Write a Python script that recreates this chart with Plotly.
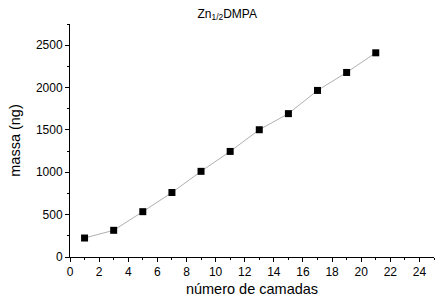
import plotly.graph_objects as go

camadas = [1, 3, 5, 7, 9, 11, 13, 15, 17, 19, 21]
massa = [224, 315, 535, 761, 1011, 1246, 1502, 1692, 1966, 2178, 2410]

fig = go.Figure()
fig.add_trace(go.Scatter(
    x=camadas, y=massa, mode="lines+markers",
    line=dict(color="#b0b0b0", width=1),
    marker=dict(symbol="square", size=7, color="black"),
    showlegend=False,
))

font = "Liberation Sans, Arial, sans-serif"
fig.update_layout(
    width=437, height=303,
    margin=dict(l=70, r=3, t=24, b=46, autoexpand=False),
    paper_bgcolor="white", plot_bgcolor="white",
    font=dict(family=font, color="black", size=12),
    title=dict(text="Zn<sub>1/2</sub>DMPA", x=0.52, xanchor="center", y=0.955, yanchor="middle",
               font=dict(size=12, family=font, color="black")),
)
fig.update_xaxes(
    range=[0, 25], dtick=2, tick0=0, showgrid=False, zeroline=False,
    showline=True, linecolor="black", linewidth=1, automargin=False,
    ticks="outside", ticklen=4, tickcolor="black",
    minor=dict(ticks="outside", ticklen=2, dtick=1, tick0=0, tickcolor="black", showgrid=False),
    title=dict(text="número de camadas", font=dict(size=14.5), standoff=5),
    tickfont=dict(size=12),
)
fig.update_yaxes(
    range=[0, 2750], dtick=500, tick0=0, showgrid=False, zeroline=False,
    showline=True, linecolor="black", linewidth=1, automargin=False,
    ticks="outside", ticklen=4, tickcolor="black",
    minor=dict(ticks="outside", ticklen=2, dtick=250, tick0=0, tickcolor="black", showgrid=False),
    title=dict(text="massa (ng)", font=dict(size=14.5), standoff=11),
    tickfont=dict(size=12),
)
fig.write_html("out.html", config={"displayModeBar": False},
               post_script="document.body.style.margin='0';")
